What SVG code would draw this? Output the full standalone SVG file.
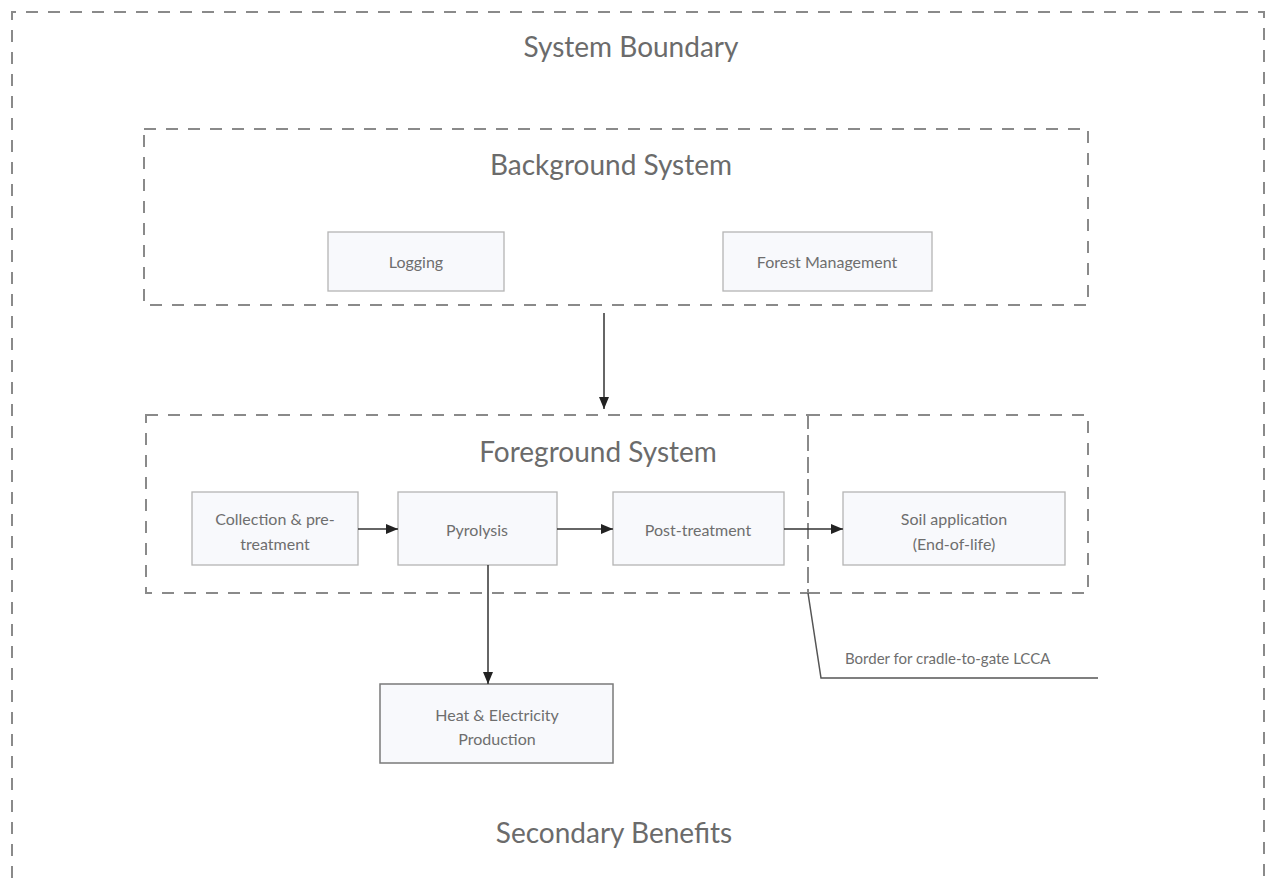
<svg xmlns="http://www.w3.org/2000/svg" width="1274" height="880" viewBox="0 0 1274 880">
  <defs>
    <marker id="arrow" markerWidth="12" markerHeight="10" refX="12" refY="5" orient="auto" markerUnits="userSpaceOnUse">
      <path d="M0,0 L12,5 L0,10 Z" fill="#222"/>
    </marker>
    <style>
      .bound { fill: none; stroke: #8a8a8a; stroke-width: 2; stroke-dasharray: 12 10; }
      .title { font-family: Lato, "Liberation Sans", sans-serif; font-size: 28px; fill: #6b6b6b; text-anchor: middle; }
      .box { fill: #f8f9fc; stroke: #b4b4b4; stroke-width: 1.3; }
      .box-dark { fill: #f8f9fc; stroke: #7a7a7a; stroke-width: 1.5; }
      .label { font-family: Lato, "Liberation Sans", sans-serif; font-size: 16px; fill: #6e6e6e; text-anchor: middle; }
      .conn { fill: none; stroke: #333; stroke-width: 1.5; }
      .note { fill: none; stroke: #555; stroke-width: 1.5; }
    </style>
  </defs>
  <rect width="1274" height="880" fill="#ffffff"/>

  <!-- outer system boundary -->
  <g id="system-boundary">
    <path class="bound" d="M12,900 L12,12 L1264,12 L1264,900"/>
    <text class="title" x="631" y="57">System Boundary</text>
  </g>

  <!-- background system -->
  <g id="background-system">
    <rect class="bound" x="144" y="129" width="944" height="176"/>
    <text class="title" x="611" y="175">Background System</text>
  </g>
  <g id="logging">
    <rect class="box" x="328" y="232" width="176" height="59"/>
    <text class="label" x="416" y="268">Logging</text>
  </g>
  <g id="forest-management">
    <rect class="box" x="723" y="232" width="209" height="59"/>
    <text class="label" x="827" y="268">Forest Management</text>
  </g>

  <!-- foreground system and end-of-life zone -->
  <g id="foreground-system">
    <rect class="bound" x="146" y="415" width="662" height="178"/>
    <text class="title" x="598" y="462">Foreground System</text>
  </g>
  <g id="end-of-life-zone">
    <rect class="bound" x="808" y="415" width="280" height="178"/>
  </g>

  <g id="collection">
    <rect class="box" x="192" y="492" width="166" height="73"/>
    <text class="label" x="275" y="525">Collection &amp; pre-</text>
    <text class="label" x="275" y="550">treatment</text>
  </g>
  <g id="pyrolysis">
    <rect class="box" x="398" y="492" width="159" height="73"/>
    <text class="label" x="477" y="536">Pyrolysis</text>
  </g>
  <g id="post-treatment">
    <rect class="box" x="613" y="492" width="171" height="73"/>
    <text class="label" x="698" y="536">Post-treatment</text>
  </g>
  <g id="soil-application">
    <rect class="box" x="843" y="492" width="222" height="73"/>
    <text class="label" x="954" y="525">Soil application</text>
    <text class="label" x="954" y="550">(End-of-life)</text>
  </g>
  <g id="heat-electricity">
    <rect class="box-dark" x="380" y="684" width="233" height="79"/>
    <text class="label" x="497" y="721">Heat &amp; Electricity</text>
    <text class="label" x="497" y="745">Production</text>
  </g>

  <g id="secondary-benefits">
    <text class="title" x="614" y="843">Secondary Benefits</text>
  </g>

  <!-- cradle-to-gate border -->
  <g id="cradle-to-gate-border">
    <polyline class="note" points="808,593 821,678 1098,678"/>
    <text class="label" x="845" y="664" style="text-anchor:start; font-size:15px">Border for cradle-to-gate LCCA</text>
  </g>

  <!-- connectors -->
  <g id="connectors">
    <line class="conn" x1="604" y1="313" x2="604" y2="409" marker-end="url(#arrow)"/>
    <line class="conn" x1="358" y1="529" x2="398" y2="529" marker-end="url(#arrow)"/>
    <line class="conn" x1="557" y1="529" x2="613" y2="529" marker-end="url(#arrow)"/>
    <line class="conn" x1="784" y1="529" x2="843" y2="529" marker-end="url(#arrow)"/>
    <line class="conn" x1="488" y1="565" x2="488" y2="684" marker-end="url(#arrow)"/>
  </g>
</svg>
